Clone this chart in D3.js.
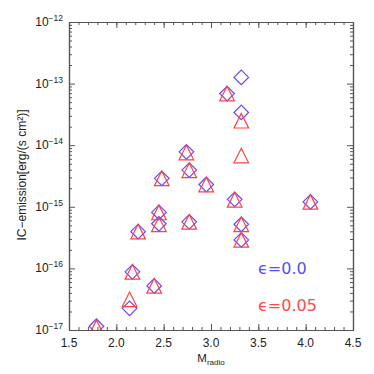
<!DOCTYPE html>
<html><head><meta charset="utf-8">
<script src="https://cdn.jsdelivr.net/npm/d3@7"></script>
<style>body{margin:0;background:#fff}svg{display:block}</style>
</head><body>
<script>
const mradio = [1.79,2.14,2.17,2.23,2.40,2.45,2.45,2.48,2.74,2.77,2.77,2.95,3.17,3.25,3.32,3.32,3.32,3.32,4.05];
const icEps0 = [1.15e-17,2.25e-17,8.8e-17,3.95e-16,5.2e-17,8.1e-16,5.3e-16,2.9e-15,7.8e-15,3.95e-15,5.7e-16,2.3e-15,6.9e-14,1.32e-15,1.26e-13,3.4e-14,5.2e-16,2.9e-16,1.2e-15];
const icEps005 = [1.1e-17,3.15e-17,8.8e-17,3.95e-16,5.2e-17,8.1e-16,5.2e-16,2.9e-15,7.6e-15,3.9e-15,5.7e-16,2.3e-15,6.9e-14,1.3e-15,2.5e-14,6.8e-15,5.2e-16,2.9e-16,1.2e-15];
const xTicks = [1.5,2.0,2.5,3.0,3.5,4.0,4.5];
const xTickLabels = ["1.5","2.0","2.5","3.0","3.5","4.0","4.5"];
const yExps = [-17,-16,-15,-14,-13,-12];
const legendLabels = ["\u03F5=0.0","\u03F5=0.05"];

const W=374,H=374, L=69,R=353,T=22,B=330;
const svg=d3.select("body").append("svg").attr("width",W).attr("height",H);
const x=d3.scaleLinear().domain([1.5,4.5]).range([L,R]);
const y=d3.scaleLog().domain([1e-17,1e-12]).range([B,T]);
const axisCol="#555", font="Liberation Sans, Arial, sans-serif";

const xMinor=d3.range(15,46).map(d=>d/10);
const yMinor=[];
yExps.slice(0,-1).forEach(e=>{for(let k=2;k<=9;k++)yMinor.push(k*Math.pow(10,e));});
const yMajor=yExps.map(e=>Math.pow(10,e));

function styleAxis(g){g.select(".domain").attr("stroke",axisCol).attr("stroke-width",1.2);g.selectAll("line").attr("stroke",axisCol);g.selectAll("text").remove();}
svg.append("g").attr("transform",`translate(0,${B})`).call(d3.axisBottom(x).tickValues(xMinor).tickSize(-3).tickSizeOuter(0)).call(styleAxis);
svg.append("g").attr("transform",`translate(0,${B})`).call(d3.axisBottom(x).tickValues(xTicks).tickSize(-6).tickSizeOuter(0)).call(styleAxis);
svg.append("g").attr("transform",`translate(0,${T})`).call(d3.axisTop(x).tickValues(xMinor).tickSize(-3).tickSizeOuter(0)).call(styleAxis);
svg.append("g").attr("transform",`translate(0,${T})`).call(d3.axisTop(x).tickValues(xTicks).tickSize(-6).tickSizeOuter(0)).call(styleAxis);
svg.append("g").attr("transform",`translate(${L},0)`).call(d3.axisLeft(y).tickValues(yMinor).tickSize(-3).tickSizeOuter(0)).call(styleAxis);
svg.append("g").attr("transform",`translate(${L},0)`).call(d3.axisLeft(y).tickValues(yMajor).tickSize(-6).tickSizeOuter(0)).call(styleAxis);
svg.append("g").attr("transform",`translate(${R},0)`).call(d3.axisRight(y).tickValues(yMinor).tickSize(-3).tickSizeOuter(0)).call(styleAxis);
svg.append("g").attr("transform",`translate(${R},0)`).call(d3.axisRight(y).tickValues(yMajor).tickSize(-6).tickSizeOuter(0)).call(styleAxis);

svg.append("g").selectAll("text").data(xTicks).join("text")
  .attr("x",d=>x(d)).attr("y",347).attr("text-anchor","middle")
  .attr("font-family",font).attr("font-size",12).attr("fill","#222")
  .text((d,i)=>xTickLabels[i]);
const yl=svg.append("g").selectAll("text").data(yExps).join("text")
  .attr("x",L-6).attr("y",d=>y(Math.pow(10,d))+4).attr("text-anchor","end")
  .attr("font-family",font).attr("font-size",12).attr("fill","#222");
yl.append("tspan").text("10");
yl.append("tspan").attr("dy",-5).attr("font-size",8.5).text(d=>"\u2212"+Math.abs(d));

const xt=svg.append("text").attr("x",211).attr("y",362).attr("text-anchor","middle")
  .attr("font-family",font).attr("font-size",11.5).attr("fill","#222");
xt.append("tspan").text("M");
xt.append("tspan").attr("dy",3).attr("font-size",8).text("radio");
svg.append("text").attr("transform","translate(26,175) rotate(-90)").attr("text-anchor","middle")
  .attr("font-family",font).attr("font-size",12).attr("fill","#222")
  .text("IC\u2212emission[erg/(s cm\u00B2)]");

svg.append("clipPath").attr("id","clip").append("rect").attr("x",L).attr("y",T).attr("width",R-L).attr("height",B-T);
const pg=svg.append("g").attr("clip-path","url(#clip)");
const s=7.3;
pg.selectAll("path.dia").data(mradio.map((m,i)=>[m,icEps0[i]])).join("path").attr("class","dia")
  .attr("d",d=>{const cx=x(d[0]),cy=y(d[1]);return `M${cx-s},${cy}L${cx},${cy-s}L${cx+s},${cy}L${cx},${cy+s}Z`;})
  .attr("fill","none").attr("stroke","#6f45f5").attr("stroke-width",1.2);
pg.selectAll("path.tri").data(mradio.map((m,i)=>[m,icEps005[i]])).join("path").attr("class","tri")
  .attr("d",d=>{const cx=x(d[0]),cy=y(d[1]);return `M${cx-s},${cy+s}L${cx},${cy-s}L${cx+s},${cy+s}Z`;})
  .attr("fill","none").attr("stroke","#ff4040").attr("stroke-width",1.2);

const lf="DejaVu Sans, sans-serif";
svg.append("text").attr("x",258).attr("y",274).attr("font-family",lf).attr("font-size",16)
  .attr("fill","#4f4fff").text(legendLabels[0]);
svg.append("text").attr("x",258).attr("y",311).attr("font-family",lf).attr("font-size",16)
  .attr("fill","#ff4a4a").text(legendLabels[1]);
</script>
</body></html>
